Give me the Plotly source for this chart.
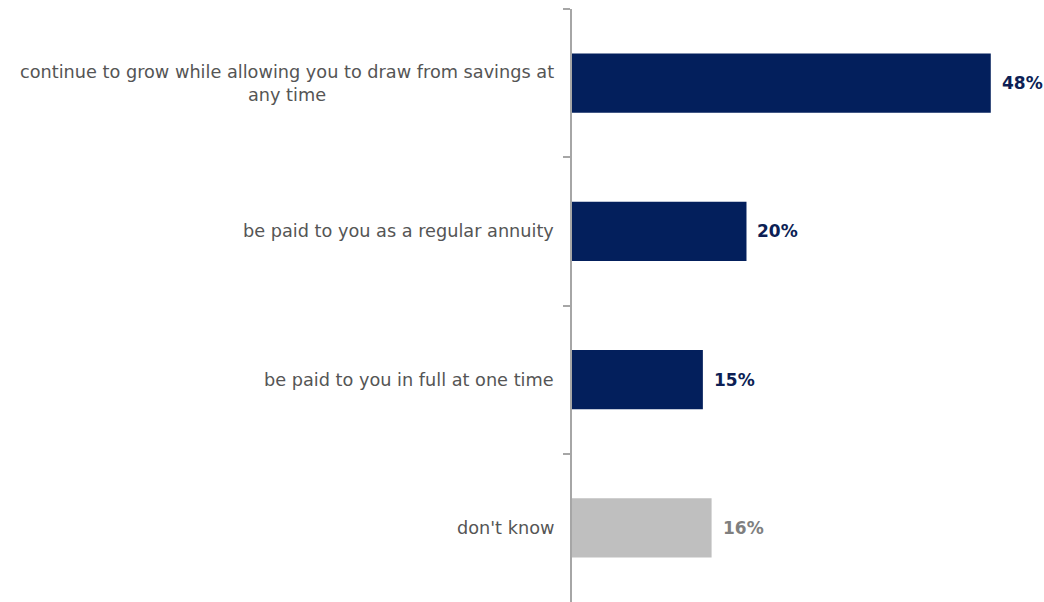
import plotly.graph_objects as go

# Survey responses: preferred way to receive retirement savings
categories = [
    "continue to grow while allowing you to draw from savings at<br>any time",
    "be paid to you as a regular annuity",
    "be paid to you in full at one time",
    "don't know",
]
values = [48, 20, 15, 16]
bar_colors = ["#031f5c", "#031f5c", "#031f5c", "#bfbfbf"]
label_colors = ["#0d1f55", "#0d1f55", "#0d1f55", "#7f7f7f"]

FONT = "DejaVu Sans, Verdana, sans-serif"

fig = go.Figure(
    go.Bar(
        x=values,
        y=categories,
        orientation="h",
        width=0.4,
        marker=dict(color=bar_colors, line=dict(width=0)),
        hoverinfo="skip",
    )
)

# Category labels (centered multi-line) to the left of the axis
for cat in categories:
    fig.add_annotation(
        x=0, y=cat, xref="paper", yref="y",
        text=cat, showarrow=False,
        xanchor="right", yanchor="middle", align="center",
        xshift=-16,
        font=dict(family=FONT, size=17.7, color="#555555"),
    )

# Value labels at bar ends
for cat, v, c in zip(categories, values, label_colors):
    fig.add_annotation(
        x=v, y=cat, xref="x", yref="y",
        text=f"<b>{v}%</b>", showarrow=False,
        xanchor="left", yanchor="middle",
        xshift=9,
        font=dict(family=FONT, size=17, color=c),
    )

fig.update_layout(
    width=1044, height=602,
    margin=dict(l=572, r=0, t=9, b=0),
    paper_bgcolor="white", plot_bgcolor="white",
    showlegend=False,
    bargap=0.6,
    xaxis=dict(
        range=[0, 54.1], visible=False, fixedrange=True,
    ),
    yaxis=dict(
        categoryorder="array", categoryarray=categories,
        autorange="reversed",
        showticklabels=False,
        showline=True, linecolor="#a6a6a6", linewidth=1.5,
        ticks="outside", tickson="boundaries", ticklen=7,
        tickcolor="#a6a6a6", tickwidth=1.5,
        showgrid=False, zeroline=False,
    ),
)

fig.write_html("out.html")
